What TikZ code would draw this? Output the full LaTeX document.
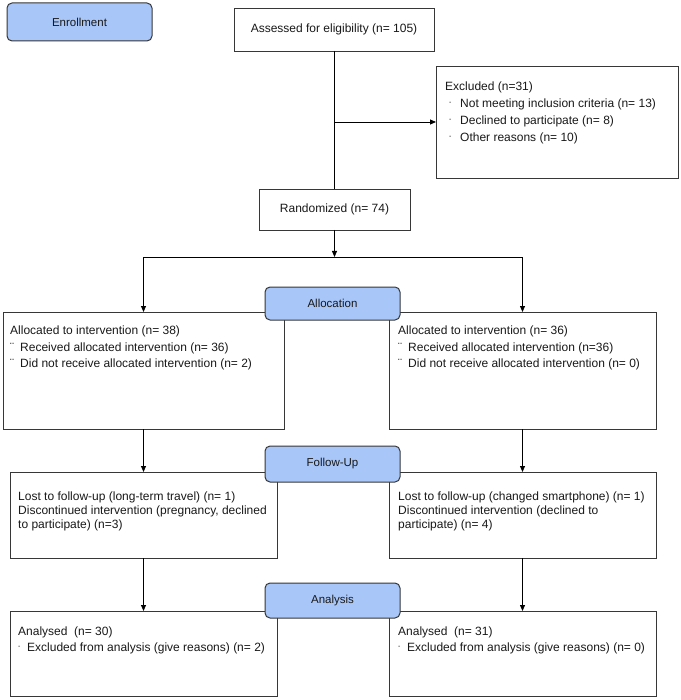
\documentclass[tikz,border=0pt]{standalone}
\usepackage{fontspec}
\setmainfont{Liberation Sans}
\usetikzlibrary{arrows.meta}
\definecolor{lblblue}{RGB}{168,198,248}
\definecolor{edgegray}{RGB}{55,55,55}
\definecolor{txtgray}{RGB}{25,25,25}
\newcommand\dashitem{\hspace*{4pt}\makebox[11pt][l]{\raisebox{3pt}{\fontsize{7}{7}\selectfont -}}}
\newcommand\smalldash{\makebox[9pt][l]{\raisebox{3pt}{\fontsize{7}{7}\selectfont -}}}
\newcommand\dotitem{\makebox[10pt][l]{¨}}
\begin{document}
\begin{tikzpicture}[x=1pt,y=-1pt,
  box/.style={draw=edgegray, line width=0.8pt, fill=white, anchor=north west, inner sep=0pt, outer sep=0pt, text=txtgray, font=\fontsize{12}{14}\selectfont},
  phase/.style={draw=edgegray, line width=1pt, fill=lblblue, rounded corners=5pt, anchor=north west, inner sep=0pt, outer sep=0pt, text=txtgray, font=\fontsize{11.5}{13}\selectfont},
  txt/.style={anchor=north west, inner sep=0pt, align=left, text=txtgray, font=\fontsize{12}{16.5}\selectfont},
  conn/.style={line width=0.8pt, draw=black},
  arr/.style={conn, -{Triangle[length=6pt,width=5pt]}}
]
\useasboundingbox (0,0) rectangle (680,700);

% boxes
\node[box, minimum width=200pt, minimum height=43pt] (assess) at (234,8) {Assessed for eligibility (n= 105)};
\node[box, minimum width=242pt, minimum height=112pt] (excl) at (436,66) {};
\node[box, minimum width=151pt, minimum height=41pt] (rand) at (259,189) {Randomized (n= 74)};
\node[box, minimum width=281pt, minimum height=117pt] (allocL) at (3,312) {};
\node[box, minimum width=267pt, minimum height=117pt] (allocR) at (389,312) {};
\node[box, minimum width=267pt, minimum height=86pt] (fuL) at (10,472) {};
\node[box, minimum width=267pt, minimum height=86pt] (fuR) at (389,472) {};
\node[box, minimum width=267pt, minimum height=85pt] (anL) at (10,611) {};
\node[box, minimum width=267pt, minimum height=85pt] (anR) at (389,611) {};

% phase labels (drawn over the box edges)
\node[phase, minimum width=145pt, minimum height=38pt] (enroll) at (7,3) {Enrollment};
\node[phase, minimum width=135pt, minimum height=33pt] (allocLbl) at (265,287) {Allocation};
\node[phase, minimum width=135pt, minimum height=36pt] (fuLbl) at (265,446) {Follow-Up};
\node[phase, minimum width=135pt, minimum height=35pt] (anLbl) at (265,583) {Analysis};

% texts
\node[txt, font=\fontsize{12}{17}\selectfont] (exclT) at (445,82) {Excluded (n=31)\\
\dashitem Not meeting inclusion criteria (n= 13)\\
\dashitem Declined to participate (n= 8)\\
\dashitem Other reasons (n= 10)};
\node[txt] (allocLT) at (10,326) {Allocated to intervention (n= 38)\\
\dotitem Received allocated intervention (n= 36)\\
\dotitem Did not receive allocated intervention (n= 2)};
\node[txt] (allocRT) at (398,326) {Allocated to intervention (n= 36)\\
\dotitem Received allocated intervention (n=36)\\
\dotitem Did not receive allocated intervention (n= 0)};
\node[txt, font=\fontsize{12}{13.7}\selectfont] (fuLT) at (18,492) {Lost to follow-up (long-term travel) (n= 1)\\
Discontinued intervention (pregnancy, declined\\
to participate) (n=3)};
\node[txt, font=\fontsize{12}{13.7}\selectfont] (fuRT) at (398,492) {Lost to follow-up (changed smartphone) (n= 1)\\
Discontinued intervention (declined to\\
participate) (n= 4)};
\node[txt, font=\fontsize{12}{16}\selectfont] (anLT) at (18,627) {Analysed~ (n= 30)\\
\smalldash Excluded from analysis (give reasons) (n= 2)};
\node[txt, font=\fontsize{12}{16}\selectfont] (anRT) at (398,627) {Analysed~ (n= 31)\\
\smalldash Excluded from analysis (give reasons) (n= 0)};

% connectors
\path (assess.south) ++(0,71) coordinate (jex);
\draw[conn] (assess.south) -- (assess.south |- rand.north);
\draw[arr] (jex) -- (jex -| excl.west);
\path (rand.south) ++(0,27) coordinate (split);
\draw[arr] (rand.south) -- (split);
\draw[conn] (allocL.north |- split) -- (allocR.north |- split);
\draw[arr] (allocL.north |- split) -- (allocL.north);
\draw[arr] (allocR.north |- split) -- (allocR.north);
\draw[arr] (allocL.south) -- (fuL.north);
\draw[arr] (allocR.south) -- (fuR.north);
\draw[arr] (fuL.south) -- (anL.north);
\draw[arr] (fuR.south) -- (anR.north);
\end{tikzpicture}
\end{document}
